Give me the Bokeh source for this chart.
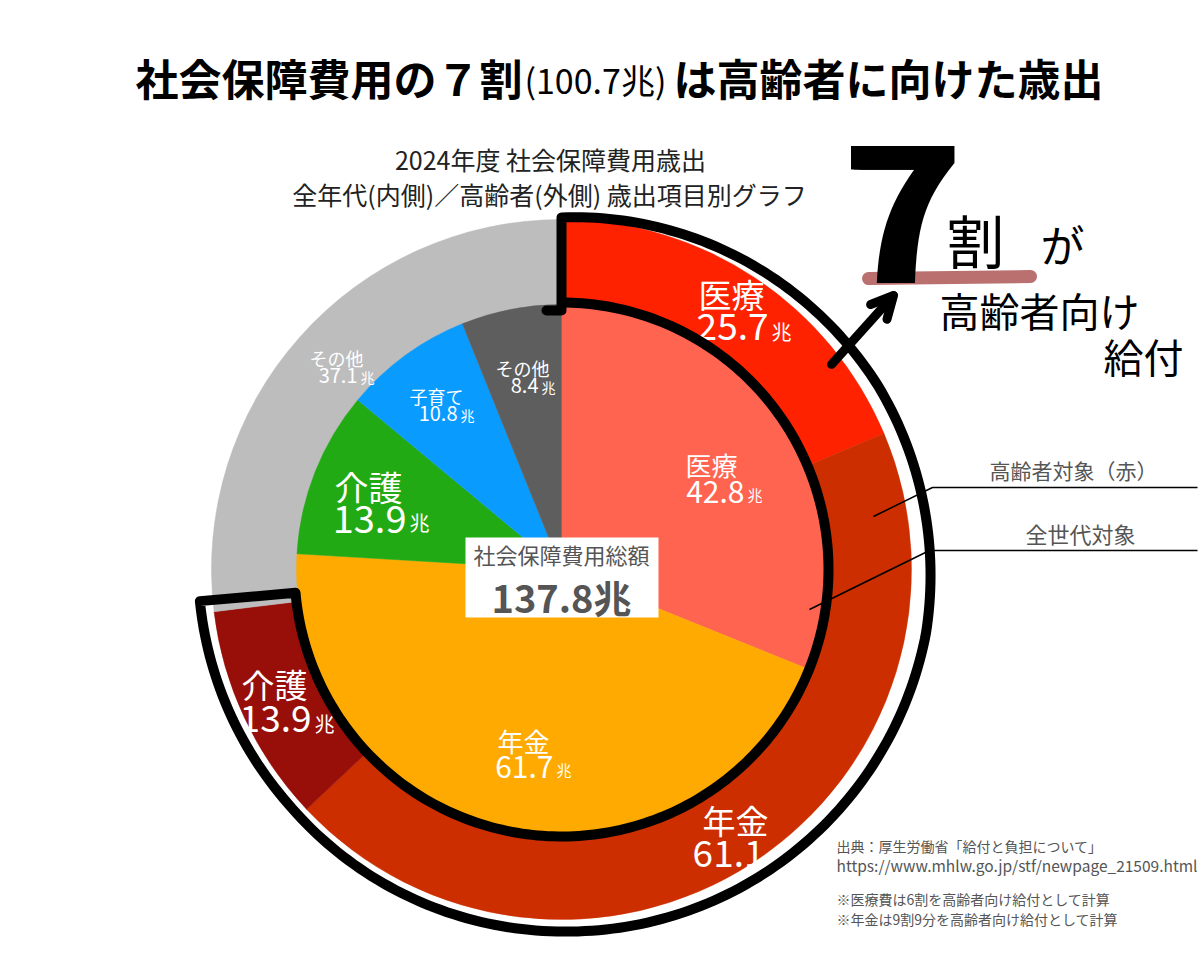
import numpy as np
from bokeh.plotting import figure
from bokeh.models import Arrow, OpenHead, ColumnDataSource
from bokeh.core.properties import value
from bokeh.embed import file_html
from bokeh.resources import INLINE

# ---- data (兆円) ----
inner_labels = ["医療", "年金", "介護", "子育て", "その他"]
inner_values = [42.8, 61.7, 13.9, 10.8, 8.4]
outer_labels = ["医療", "年金", "介護", "その他"]
outer_values = [25.7, 61.1, 13.9, 37.1]
total_value = 137.8
elderly_value = 100.7

inner_colors = ["#FF6450", "#FFAA00", "#22AA14", "#0A9BFF", "#5E5E5E"]
outer_colors = ["#FF2200", "#CC2E00", "#980E08", "#BDBDBD"]

W, H = 1200, 971
FONT = "Noto Sans CJK JP"
CX, CY = 561, 569          # pie centre (page pixels, y downwards)
R_IN, R_OUT = 265, 350


def Y(y):
    return H - y


def clockwise(vals):
    v = np.asarray(vals, dtype=float)
    cum = np.concatenate([[0.0], np.cumsum(v)]) / v.sum() * 2 * np.pi
    return np.pi / 2 - cum[1:], np.pi / 2 - cum[:-1]


p = figure(width=W, height=H, x_range=(0, W), y_range=(0, H),
           output_backend="svg", toolbar_location=None,
           x_axis_type=None, y_axis_type=None, min_border=0)
p.outline_line_color = None
p.background_fill_color = "white"
p.border_fill_color = "white"

# ---- outer ring: elderly spending ----
s, e = clockwise(outer_values)
p.annular_wedge(x=CX, y=Y(CY), inner_radius=R_IN - 2, outer_radius=R_OUT,
                start_angle="s", end_angle="e", fill_color="c", line_color="c",
                line_width=0.5,
                source=ColumnDataSource(dict(s=s, e=e, c=outer_colors)))

# ---- inner pie: all generations ----
s, e = clockwise(inner_values)
p.wedge(x=CX, y=Y(CY), radius=R_IN, start_angle="s", end_angle="e",
        fill_color="c", line_color="c", line_width=0.5,
        source=ColumnDataSource(dict(s=s, e=e, c=inner_colors)))


def txt(x, y, s, size, color="white", bold=False, align="center",
        baseline="middle"):
    p.text(x=[x], y=[Y(y)], text=[s], text_font=value(FONT),
           text_font_size=f"{size}px", text_color=color, text_align=align,
           text_baseline=baseline,
           text_font_style="bold" if bold else "normal")


def label(name, v, xname, yname, nsize, xj, yv, vsize, usize, uy):
    txt(xname, yname, name, nsize)
    txt(xj, yv, f"{v}", vsize, align="right")
    txt(xj + 3, uy, "兆", usize, align="left")


# inner labels
label(inner_labels[0], inner_values[0], 711, 464, 26, 744, 491, 30, 15, 494)
label(inner_labels[1], inner_values[1], 523, 740, 26, 553, 766, 30, 15, 769)
label(inner_labels[2], inner_values[2], 368, 486, 34, 406, 518, 38, 20, 522)
label(inner_labels[3], inner_values[3], 436, 395, 18, 457, 413, 20, 14, 414)
label(inner_labels[4], inner_values[4], 522, 367, 18, 538, 385, 20, 14, 386)

# outer labels
label(outer_labels[0], outer_values[0], 731, 293, 33, 768, 326, 37, 20, 331)
label(outer_labels[1], outer_values[1], 735, 819, 33, 764, 853, 37, 20, 858)
label(outer_labels[2], outer_values[2], 274, 683, 33, 311, 718, 37, 20, 723)
label(outer_labels[3], outer_values[3], 336, 357, 18, 357, 375, 20, 14, 376)

# ---- centre total box ----
p.rect(x=[(465 + 658) / 2], y=[Y((537 + 617) / 2)], width=193, height=80,
       fill_color="white", line_color=None)
txt(561, 553, "社会保障費用総額", 22, color="#555555")
txt(561, 596, f"{total_value}兆", 38, color="#555555", bold=True)

# ---- hand-drawn outline around the elderly share ----
end_deg = 265.0
t_out = np.deg2rad(np.linspace(0, end_deg, 240))
r_out = np.interp(np.rad2deg(t_out), [0, 30, 60, 100, 180, 230, 265],
                  [352, 359, 366, 370, 362, 360, 363])
t_in = t_out[::-1]
r_in = np.full_like(t_in, 267.0)
px = np.concatenate([[546, CX], CX + r_out * np.sin(t_out),
                     CX + r_in * np.sin(t_in)])
py = np.concatenate([[310, 310], CY - r_out * np.cos(t_out),
                     CY - r_in * np.cos(t_in)])
p.line(px, H - py, line_color="black", line_width=10, line_join="round",
       line_cap="round")

# ---- leader lines on the right ----
p.line([873, 932, 1197], [Y(516), Y(487), Y(487)], line_color="black",
       line_width=1.5)
p.line([809, 929, 1197], [Y(609), Y(550), Y(550)], line_color="black",
       line_width=1.5)
txt(1073, 469, "高齢者対象（赤）", 21, color="#555555")
txt(1080, 532, "全世代対象", 22, color="#555555")

# ---- titles ----
txt(135, 76, "社会保障費用の７割", 43, color="black", bold=True, align="left")
txt(524, 79, f"({elderly_value}兆)", 34, color="black", align="left")
txt(673, 76, "は高齢者に向けた歳出", 43, color="black", bold=True,
    align="left")
txt(550, 158, "2024年度 社会保障費用歳出", 25, color="#222222")
txt(549, 193, "全年代(内側)／高齢者(外側) 歳出項目別グラフ", 25,
    color="#222222")

# ---- source notes ----
note_color = "#555555"
txt(836, 845, "出典：厚生労働省「給付と負担について」", 14, color=note_color,
    align="left")
txt(836, 864, "https://www.mhlw.go.jp/stf/newpage_21509.html", 15.5,
    color=note_color, align="left")
txt(836, 898, "※医療費は6割を高齢者向け給付として計算", 14,
    color=note_color, align="left")
txt(836, 918, "※年金は9割9分を高齢者向け給付として計算", 14,
    color=note_color, align="left")

# ---- handwritten callout ----
p.line([868, 1030], [Y(278), Y(276)], line_color="#B9706E", line_width=13,
       line_cap="round")
# brush-heavy "7": the glyph is stamped a few times side by side
for dx in (-5, -2, 2, 5):
    txt(902 + dx, 212, "7", 190, color="black", bold=True,
        baseline="alphabetic")
txt(975, 238, "割", 58, color="black")
txt(1062, 243, "が", 44, color="black")
txt(1039, 309, "高齢者向け", 40, color="black")
txt(1143, 355, "給付", 40, color="black")
p.add_layout(Arrow(x_start=831, y_start=Y(364), x_end=893, y_end=Y(295),
                   line_color="black", line_width=9, line_cap="round",
                   end=OpenHead(line_color="black", line_width=9, size=22,
                                line_cap="round", line_join="round")))

open("out.html", "w").write(file_html(p, INLINE))
